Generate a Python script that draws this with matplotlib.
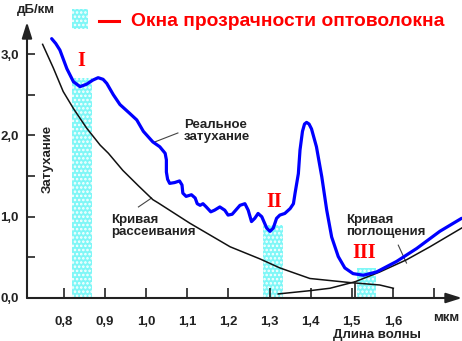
import matplotlib.pyplot as plt
from matplotlib.patches import Rectangle
from matplotlib.lines import Line2D

plt.rcParams['font.family'] = ['Liberation Sans', 'DejaVu Sans']
plt.rcParams['hatch.linewidth'] = 1.2

# реальное затухание (мкм, дБ/км)
real_wl = [0.770, 0.780, 0.790, 0.807, 0.823, 0.839, 0.855, 0.870, 0.883, 0.895,
           0.904, 0.920, 0.936, 0.960, 0.977, 0.993, 1.016, 1.033, 1.046, 1.049,
           1.049, 1.052, 1.057, 1.069, 1.081, 1.087, 1.089, 1.097, 1.110, 1.119,
           1.124, 1.131, 1.138, 1.146, 1.157, 1.166, 1.179, 1.191, 1.199, 1.209,
           1.228, 1.240, 1.248, 1.256, 1.264, 1.272, 1.281, 1.293, 1.301, 1.309,
           1.317, 1.325, 1.337, 1.350, 1.358, 1.362, 1.370, 1.374, 1.380, 1.385,
           1.390, 1.396, 1.402, 1.414, 1.427, 1.439, 1.451, 1.467, 1.483, 1.503,
           1.528, 1.560, 1.609, 1.658, 1.714, 1.767]
real_att = [3.19, 3.13, 3.05, 2.82, 2.66, 2.60, 2.63, 2.68, 2.71, 2.69,
            2.64, 2.50, 2.38, 2.27, 2.19, 2.05, 1.92, 1.86, 1.78, 1.70,
            1.55, 1.46, 1.41, 1.42, 1.44, 1.39, 1.29, 1.25, 1.27, 1.23,
            1.16, 1.14, 1.16, 1.12, 1.06, 1.08, 1.12, 1.08, 1.02, 1.03,
            1.14, 1.16, 1.08, 0.94, 0.98, 1.04, 1.00, 0.86, 0.82, 0.86,
            0.98, 1.02, 1.04, 1.10, 1.16, 1.29, 1.53, 1.82, 2.05, 2.14,
            2.16, 2.14, 2.08, 1.86, 1.49, 1.08, 0.75, 0.51, 0.37, 0.30,
            0.28, 0.32, 0.45, 0.61, 0.82, 0.98]

# кривая рассеивания
scat_wl = [0.748, 0.774, 0.798, 0.823, 0.855, 0.888, 0.908, 0.943, 0.981, 1.016,
           1.029, 1.106, 1.204, 1.277, 1.325, 1.398, 1.495, 1.568, 1.601]
scat_att = [3.12, 2.83, 2.54, 2.33, 2.09, 1.88, 1.78, 1.57, 1.38, 1.21,
            1.17, 0.92, 0.63, 0.48, 0.37, 0.24, 0.19, 0.16, 0.12]

# кривая поглощения
abs_wl = [1.321, 1.398, 1.447, 1.508, 1.568, 1.633, 1.690, 1.767]
abs_att = [0.05, 0.09, 0.12, 0.20, 0.32, 0.47, 0.63, 0.86]

# окна прозрачности
win_lo = [0.819, 1.283, 1.512]
win_hi = [0.869, 1.332, 1.560]
win_top = [2.71, 0.90, 0.365]
win_names = ['I', 'II', 'III']
win_label_x = [0.843, 1.312, 1.531]
win_label_y = [2.91, 1.175, 0.55]

x_ticks = [0.8, 0.9, 1.0, 1.1, 1.2, 1.3, 1.4, 1.5, 1.6, 1.7]
x_labels = ['0,8', '0,9', '1,0', '1,1', '1,2', '1,3', '1,4', '1,5', '1,6', '']
y_ticks = [0.0, 1.0, 2.0, 3.0]
y_labels = ['0,0', '1,0', '2,0', '3,0']
y_minor = [0.5, 1.5, 2.5]

cyan = '#7ff7f7'
dark = '#222222'

fig = plt.figure(figsize=(4.62, 3.41), dpi=100)
ax = fig.add_axes([27 / 462, 43 / 341, 435 / 462, 276 / 341])
ax.set_xlim(0.710, 1.768)
ax.set_ylim(0, 3.395)

for s in ax.spines.values():
    s.set_visible(False)

ax.bar(win_lo, win_top, width=[h - l for l, h in zip(win_lo, win_hi)], align='edge',
       color=cyan, edgecolor='white', linewidth=0, hatch='....', zorder=1)
for x, y, t in zip(win_label_x, win_label_y, win_names):
    ax.text(x, y, t, color='red', fontsize=14.5, fontweight='bold',
            family='Liberation Serif', ha='center', va='center')

ax.plot(scat_wl, scat_att, color='#111111', lw=1.1, zorder=3)
ax.plot(abs_wl, abs_att, color='#111111', lw=1.1, zorder=3)
ax.plot(real_wl, real_att, color='#0000ff', lw=2.3, zorder=4,
        solid_joinstyle='round', solid_capstyle='round')

# оси со стрелками
arrow = dict(arrowstyle='-|>,head_length=0.95,head_width=0.3', color=dark,
             lw=1.5, shrinkA=0, shrinkB=0, mutation_scale=10)
ax.annotate('', xy=(1, 0), xytext=(0, 0), xycoords='axes fraction', arrowprops=arrow)
ax.annotate('', xy=(0, 1), xytext=(0, 0), xycoords='axes fraction', arrowprops=arrow)

ax.set_xticks(x_ticks)
ax.set_xticklabels(x_labels)
ax.set_yticks(y_ticks)
ax.set_yticklabels(y_labels)
ax.set_yticks(y_minor, minor=True)
ax.tick_params(axis='x', direction='in', length=7, width=1.2, color=dark, pad=13,
               labelsize=9.5, labelcolor=dark)
ax.tick_params(axis='y', which='both', direction='in', length=6, width=1.2, color=dark,
               pad=6, labelsize=9.5, labelcolor=dark)
for lab in ax.get_xticklabels() + ax.get_yticklabels():
    lab.set_fontweight('bold')
ax.plot([1.508, 1.508], [0, 0.2], color=dark, lw=1.2, zorder=3)

# подписи кривых
ax.text(1.092, 2.05, 'Реальное\nзатухание', fontsize=9.5, fontweight='bold', color=dark,
        ha='left', va='center', linespacing=1.0)
ax.plot([1.021, 1.077], [1.92, 2.03], color='#444444', lw=0.8)
ax.text(0.914, 0.88, 'Кривая\nрассеивания', fontsize=9.5, fontweight='bold', color=dark,
        ha='left', va='center', linespacing=1.0)
ax.plot([0.981, 1.013], [1.12, 1.23], color='#444444', lw=0.8)
ax.text(1.487, 0.89, 'Кривая\nпоглощения', fontsize=9.5, fontweight='bold', color=dark,
        ha='left', va='center', linespacing=1.0)
ax.plot([1.613, 1.633], [0.65, 0.43], color='#444444', lw=0.8)

W, H = 462, 341
fig.text(35.8 / W, 1 - 10 / H, 'дБ/км', fontsize=9.5, fontweight='bold', color=dark,
         ha='center', va='center')
fig.text(47.5 / W, 1 - 158.5 / H, 'Затухание', fontsize=9.5, fontweight='bold', color=dark,
         ha='center', va='center', rotation=90)
fig.text(446 / W, 1 - 318 / H, 'мкм', fontsize=9.5, fontweight='bold', color=dark,
         ha='center', va='center')
fig.text(376.5 / W, 1 - 335 / H, 'Длина волны', fontsize=9.5, fontweight='bold', color=dark,
         ha='center', va='center')

# легенда
fig.patches.append(Rectangle((72.3 / W, 1 - 29 / H), 16 / W, 20 / H, transform=fig.transFigure,
                             facecolor=cyan, edgecolor='white', linewidth=0, hatch='....'))
fig.add_artist(Line2D([99.3 / W, 119.3 / W], [1 - 21 / H, 1 - 21 / H], color='red', lw=2.2))
fig.text(130.7 / W, 1 - 21 / H, 'Окна прозрачности оптоволокна', fontsize=13.9,
         fontweight='bold', color='red', ha='left', va='center')

fig.savefig('out.png', dpi=100)
